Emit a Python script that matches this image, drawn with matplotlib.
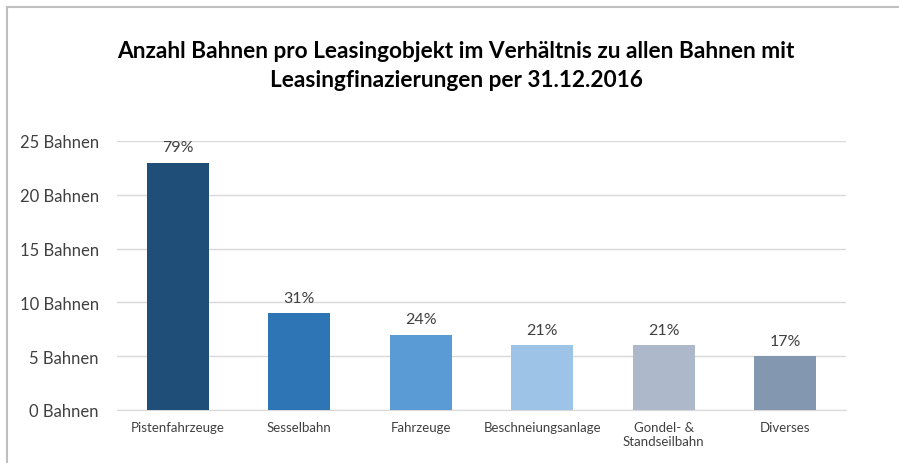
import matplotlib.pyplot as plt
from matplotlib.lines import Line2D

categories = ['Pistenfahrzeuge', 'Sesselbahn', 'Fahrzeuge', 'Beschneiungsanlage',
              'Gondel- &\nStandseilbahn', 'Diverses']
values = [23, 9, 7, 6, 6, 5]
percent_labels = ['79%', '31%', '24%', '21%', '21%', '17%']
colors = ['#1F4E79', '#2E75B6', '#5B9BD5', '#9DC3E6', '#ADB9CA', '#8497B0']
y_ticks = [0, 5, 10, 15, 20, 25]

plt.rcParams['font.family'] = ['Lato', 'DejaVu Sans']

fig = plt.figure(figsize=(8.99, 4.64), dpi=100)
ax = fig.add_axes([117 / 899, 1 - 411 / 464, 729 / 899, 269 / 464])

x = range(len(categories))
bars = ax.bar(x, values, width=0.51, color=colors, zorder=3)
for bar, lab in zip(bars, percent_labels):
    ax.annotate(lab, (bar.get_x() + bar.get_width() / 2, bar.get_height()),
                xytext=(0, 6), textcoords='offset points', ha='center', va='bottom',
                fontsize=11.5, color='#404040')

ax.set_xlim(-0.5, len(categories) - 0.5)
ax.set_ylim(0, 25)
ax.set_yticks(y_ticks)
ax.set_yticklabels([f'{t} Bahnen' for t in y_ticks], fontsize=12, color='#404040')
ax.set_xticks(list(x))
ax.set_xticklabels(categories, fontsize=9.5, color='#404040')
ax.tick_params(length=0, axis='both')
ax.tick_params(axis='y', pad=13)
ax.tick_params(axis='x', pad=8)
ax.grid(axis='y', color='#D9D9D9', linewidth=1, zorder=0)
for s in ['top', 'right', 'left']:
    ax.spines[s].set_visible(False)
ax.spines['bottom'].set_color('#D9D9D9')

fig.text(456 / 899, 1 - 66 / 464,
         'Anzahl Bahnen pro Leasingobjekt im Verhältnis zu allen Bahnen mit\n'
         'Leasingfinazierungen per 31.12.2016',
         ha='center', va='center', fontsize=16.3, fontweight='bold', linespacing=1.45)

# Rahmen oben und links
fig.add_artist(Line2D([7 / 899, 7 / 899], [0, 1 - 8 / 464], transform=fig.transFigure,
                      color='#BFBFBF', linewidth=1.5))
fig.add_artist(Line2D([7 / 899, 1], [1 - 8 / 464, 1 - 8 / 464], transform=fig.transFigure,
                      color='#BFBFBF', linewidth=1.5))

fig.savefig('out.png', dpi=100)
